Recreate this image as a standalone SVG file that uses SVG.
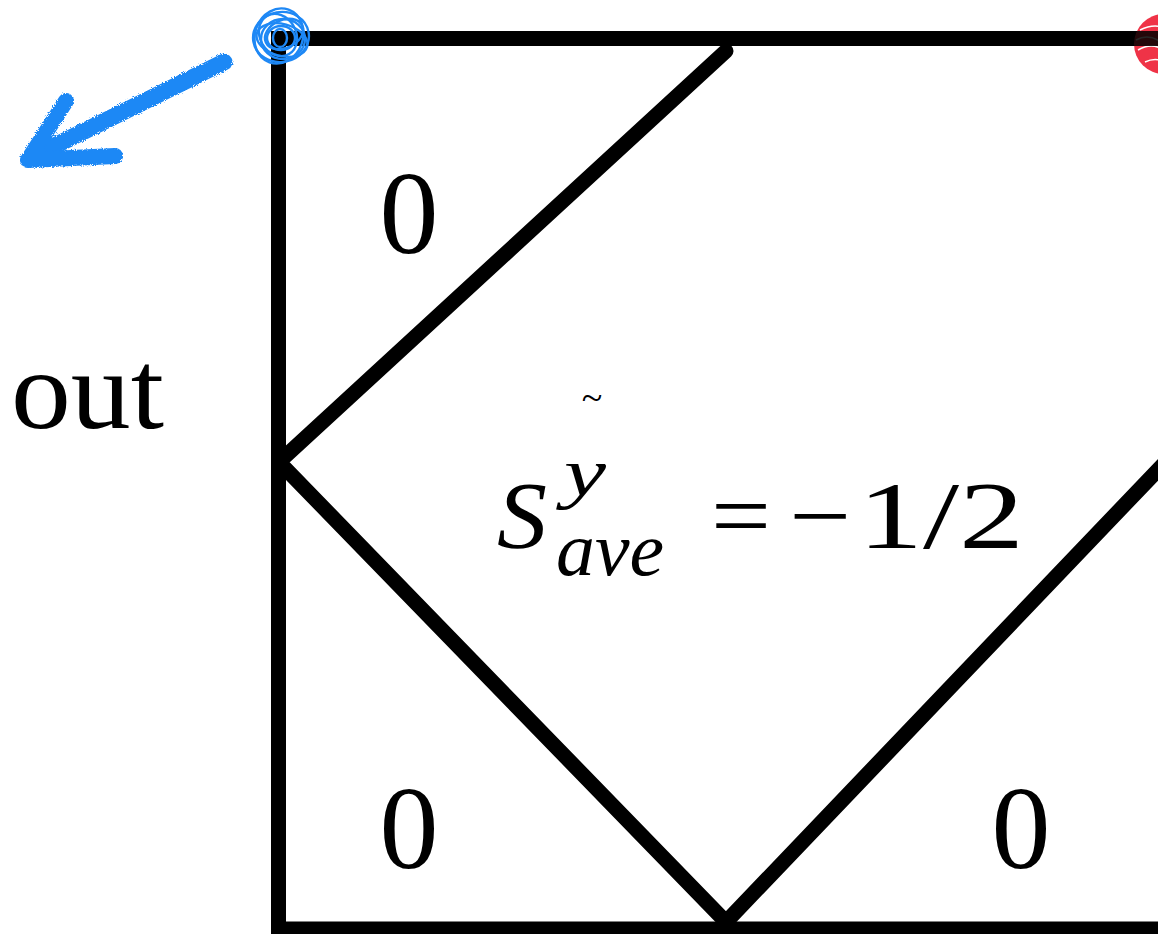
<svg xmlns="http://www.w3.org/2000/svg" width="1158" height="934" viewBox="0 0 1158 934">
<style>
.frame{stroke:#000;stroke-width:15;fill:none;stroke-linecap:square}
.diag{stroke:#000;stroke-width:15;fill:none;stroke-linecap:round;stroke-linejoin:round}
.serif{font-family:"Liberation Serif","Times New Roman",serif;fill:#000}
.it{font-style:italic}
.blue{stroke:#1e88f5;fill:none;stroke-linecap:round;stroke-linejoin:round}
.bs{stroke:#1e88f5;fill:none;stroke-width:2.4}
.rs{stroke:#fff;fill:none;stroke-width:1.5}
</style>
<defs>
<filter id="chalk" x="-10%" y="-10%" width="120%" height="120%">
<feTurbulence type="fractalNoise" baseFrequency="0.9" numOctaves="2" seed="3" result="n"/>
<feDisplacementMap in="SourceGraphic" in2="n" scale="4"/>
</filter>
</defs>
<rect width="1158" height="934" fill="#fff"/>
<g id="frame">
<path class="frame" d="M278.5 929 L278.5 38.5 L1170 38.5"/>
<path class="frame" d="M278.5 929 L1170 929"/>
</g>
<g id="connectors">
<path class="diag" d="M726 51 L279 462 L726 922 L1175 452"/>
</g>
<g id="red-mark">
<circle cx="1164" cy="44" r="30" fill="#ef3347"/>
<path class="rs" d="M1140 30 Q1160 20 1175 35 M1138 50 Q1155 40 1170 55 M1145 62 Q1160 55 1172 68 M1136 40 Q1150 32 1165 45"/>
<rect x="1134" y="31" width="30" height="15" fill="#000" opacity="0.85"/>
</g>
<g id="blue-mark">
<ellipse class="bs" cx="281" cy="37" rx="28" ry="25" transform="rotate(-10 281 37)"/>
<ellipse class="bs" cx="279" cy="36" rx="24" ry="28" transform="rotate(20 279 36)"/>
<ellipse class="bs" cx="283" cy="39" rx="22" ry="20"/>
<ellipse class="bs" cx="278" cy="35" rx="18" ry="22" transform="rotate(-30 278 35)"/>
<ellipse class="bs" cx="281" cy="38" rx="14" ry="12"/>
<ellipse class="bs" cx="282" cy="40" rx="26" ry="16" transform="rotate(15 282 40)"/>
<ellipse class="bs" cx="284" cy="34" rx="20" ry="14" transform="rotate(-25 284 34)"/>
<ellipse class="bs" cx="280" cy="38" rx="7" ry="9"/>
</g>
<g id="arrow" filter="url(#chalk)">
<path class="blue" stroke-width="17" d="M224 62 L30 158"/>
<path class="blue" stroke-width="16" d="M66 101 L28 160 L115 156"/>
</g>
<g id="labels">
<text class="serif" x="409" y="253" font-size="118" text-anchor="middle">0</text>
<text class="serif" x="409" y="868" font-size="118" text-anchor="middle">0</text>
<text class="serif" x="1021" y="868" font-size="118" text-anchor="middle">0</text>
<text class="serif" x="11" y="428" font-size="113" textLength="153" lengthAdjust="spacingAndGlyphs">out</text>
</g>
<g id="formula">
<text class="serif" x="592" y="410" font-size="38" text-anchor="middle">~</text>
<text class="serif it" x="497" y="548" font-size="96" textLength="50" lengthAdjust="spacingAndGlyphs">S</text>
<text class="serif it" x="564" y="496" font-size="68" textLength="42" lengthAdjust="spacingAndGlyphs">y</text>
<text class="serif it" x="556" y="575" font-size="76" textLength="108" lengthAdjust="spacingAndGlyphs">ave</text>
<text class="serif" x="711" y="548" font-size="96" textLength="60" lengthAdjust="spacingAndGlyphs">=</text>
<text class="serif" x="789" y="548" font-size="96" textLength="62" lengthAdjust="spacingAndGlyphs">−</text>
<text class="serif" x="858" y="548" font-size="96" textLength="166" lengthAdjust="spacingAndGlyphs">1/2</text>
</g>
</svg>
